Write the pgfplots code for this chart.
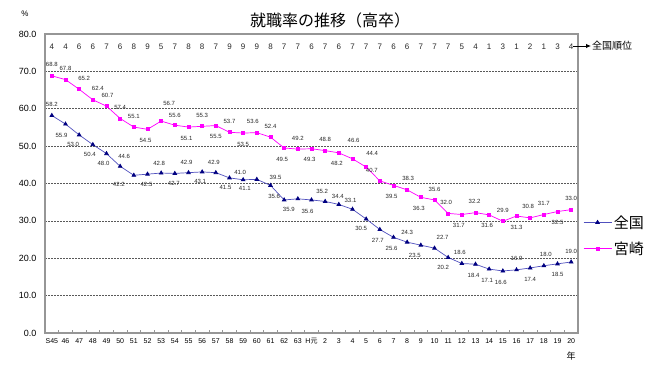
\documentclass[border=0pt]{standalone}
\usepackage{fontspec}
\setmainfont{Liberation Sans}
\newfontfamily\jp{Noto Sans CJK JP}
\usepackage{pgfplots}
\usepackage{pgfplotstable}
\pgfplotsset{compat=1.18}
\usetikzlibrary{arrows.meta}
\definecolor{navy}{RGB}{0,0,128}
\definecolor{zline}{RGB}{80,80,190}
\definecolor{mag}{RGB}{255,0,255}
\definecolor{frame}{RGB}{150,150,150}

\pgfplotstableread{
x y lab dx dy
0 58.2 58.2 0 11
1 55.9 55.9 -4 -11
2 53.0 53.0 -6 -10
3 50.4 50.4 -3 -10
4 48.0 48.0 -3 -10
5 44.6 44.6 4 10
6 42.2 42.2 -15 -9
7 42.5 42.5 -1 -10
8 42.8 42.8 -2 10
9 42.7 42.7 -1 -10
10 42.9 42.9 -2 10
11 43.1 43.1 -2 -10
12 42.9 42.9 -2 10
13 41.5 41.5 -4 -10
14 41.0 41.0 -3 7
15 41.1 41.1 -12 -9
16 39.5 39.5 5 8
17 35.6 35.6 -10 4
18 35.9 35.9 -9 -11
19 35.6 35.6 -4 -11
20 35.2 35.2 -3 10
21 34.4 34.4 -1 8
22 33.1 33.1 -2 9
23 30.5 30.5 -5 -9
24 27.7 27.7 -2 -11
25 25.6 25.6 -2 -11
26 24.3 24.3 0 10
27 23.5 23.5 -6 -10
28 22.7 22.7 8 11
29 20.2 20.2 -5 -10
30 18.6 18.6 -2 11
31 18.4 18.4 -2 -11
32 17.1 17.1 -2 -11
33 16.6 16.6 -2 -11
34 16.9 16.9 0 11
35 17.4 17.4 0 -11
36 18.0 18.0 2 11
37 18.5 18.5 0 -11
38 19.0 19.0 0 11
}\zenkoku

\pgfplotstableread{
x y lab dx dy
0 68.8 68.8 0 11
1 67.8 67.8 0 11
2 65.2 65.2 5 11
3 62.4 62.4 5 11
4 60.7 60.7 1 11
5 57.4 57.4 0 11
6 55.1 55.1 0 11
7 54.5 54.5 -2 -11
8 56.7 56.7 8 18
9 55.6 55.6 0 10
10 55.1 55.1 -2 -11
11 55.3 55.3 0 11
12 55.5 55.5 0 -11
13 53.7 53.7 0 11
14 53.5 53.5 0 -11
15 53.6 53.6 -4 11
16 52.4 52.4 0 11
17 49.5 49.5 -2 -11
18 49.2 49.2 0 11
19 49.3 49.3 -2 -11
20 48.8 48.8 0 11
21 48.2 48.2 -2 -11
22 46.6 46.6 1 18
23 44.4 44.4 6 14
24 40.7 40.7 -8 10
25 39.5 39.5 -2 -11
26 38.3 38.3 1 11
27 36.3 36.3 -2 -11
28 35.6 35.6 0 11
29 32.0 32.0 -2 11
30 31.7 31.7 -3 -11
31 32.2 32.2 -1 11
32 31.6 31.6 -2 -11
33 29.9 29.9 0 11
34 31.3 31.3 0 -11
35 30.8 30.8 -2 11
36 31.7 31.7 0 11
37 32.5 32.5 0 -11
38 33.0 33.0 0 11
}\miyazaki

\pgfplotstableread{
x y r
0 76.5 4
1 76.5 4
2 76.5 6
3 76.5 6
4 76.5 7
5 76.5 6
6 76.5 8
7 76.5 9
8 76.5 5
9 76.5 7
10 76.5 8
11 76.5 8
12 76.5 7
13 76.5 9
14 76.5 9
15 76.5 9
16 76.5 8
17 76.5 7
18 76.5 7
19 76.5 6
20 76.5 7
21 76.5 6
22 76.5 7
23 76.5 7
24 76.5 7
25 76.5 6
26 76.5 6
27 76.5 7
28 76.5 7
29 76.5 7
30 76.5 5
31 76.5 4
32 76.5 1
33 76.5 3
34 76.5 1
35 76.5 2
36 76.5 1
37 76.5 3
38 76.5 4
}\ranks

\begin{document}
\begin{tikzpicture}
\useasboundingbox (0pt,0pt) rectangle (660pt,367pt);
\begin{axis}[
  at={(45pt,34pt)}, anchor=south west,
  width=533pt, height=299pt, scale only axis,
  xmin=-0.5, xmax=38.5, ymin=0, ymax=80,
  axis line style={draw=frame, line width=1.2pt},
  ytick={0,10,...,80},
  ytick style={draw=none},
  yticklabel style={font=\fontsize{9}{9}\selectfont, xshift=-5pt,
    /pgf/number format/.cd, fixed, fixed zerofill, precision=1, assume math mode=true},
  ymajorgrids,
  grid style={draw=black!65, line width=0.6pt, dash pattern=on 1.5pt off 1.5pt},
  xtick={0,...,38},
  xticklabels={S45,46,47,48,49,50,51,52,53,54,55,56,57,58,59,60,61,62,63,H{\jp 元},2,3,4,5,6,7,8,9,10,11,12,13,14,15,16,17,18,19,20},
  xticklabel style={font=\fontsize{7}{7}\selectfont, yshift=-2pt},
  major x tick style={draw=none},
  minor xtick={0.5,1.5,...,37.5},
  minor x tick style={draw=frame, line width=0.8pt},
  minor tick length=3pt,
  xtick pos=left, ytick pos=left,
  tick align=inside,
  clip=false,
  legend style={at={(axis description cs:1,0.326)}, anchor=west, xshift=5pt, draw=none, fill=none,
    font=\jp\fontsize{15}{15}\selectfont, row sep=8pt, inner xsep=0pt},
  legend cell align=left,
  legend image code/.code={\draw[mark repeat=2,mark phase=2,#1] plot coordinates {(0pt,0pt) (14pt,0pt) (28pt,0pt)};},
]
\addplot[draw=none, forget plot, nodes near coords, point meta=explicit symbolic,
  every node near coord/.append style={anchor=center, font=\fontsize{8}{8}\selectfont, text=black!85}]
  table[x=x, y=y, meta=r]{\ranks};

\addplot[color=zline, line width=0.7pt, mark=triangle*, mark size=2.1pt,
  mark options={draw=navy, fill=navy, solid},
  nodes near coords, point meta=explicit symbolic,
  visualization depends on={\thisrow{dx} \as \ldx},
  visualization depends on={\thisrow{dy} \as \ldy},
  every node near coord/.append style={anchor=center, font=\fontsize{6}{6}\selectfont, text=black!85, xshift=\ldx, yshift=\ldy}]
  table[x=x, y=y, meta=lab]{\zenkoku};
\addlegendentry{全国}

\addplot[color=mag, line width=0.7pt, mark=square*, mark size=1.5pt,
  mark options={draw=mag, fill=mag, solid},
  nodes near coords, point meta=explicit symbolic,
  visualization depends on={\thisrow{dx} \as \ldx},
  visualization depends on={\thisrow{dy} \as \ldy},
  every node near coord/.append style={anchor=center, font=\fontsize{6}{6}\selectfont, text=black!85, xshift=\ldx, yshift=\ldy}]
  table[x=x, y=y, meta=lab]{\miyazaki};
\addlegendentry{宮崎}
\end{axis}
\node[font=\jp\fontsize{16}{16}\selectfont] at (330pt,347pt) {就職率の推移（高卒）};
\node[font=\fontsize{8}{8}\selectfont] at (25pt,353pt) {\%};
\draw[-{Latex[length=5pt,width=4.5pt]}, line width=0.9pt] (573pt,321pt) -- (591pt,321pt);
\node[anchor=west, font=\jp\fontsize{10}{10}\selectfont, inner sep=1pt] at (591pt,321pt) {全国順位};
\node[font=\jp\fontsize{9}{9}\selectfont] at (571pt,11pt) {年};
\end{tikzpicture}
\end{document}
